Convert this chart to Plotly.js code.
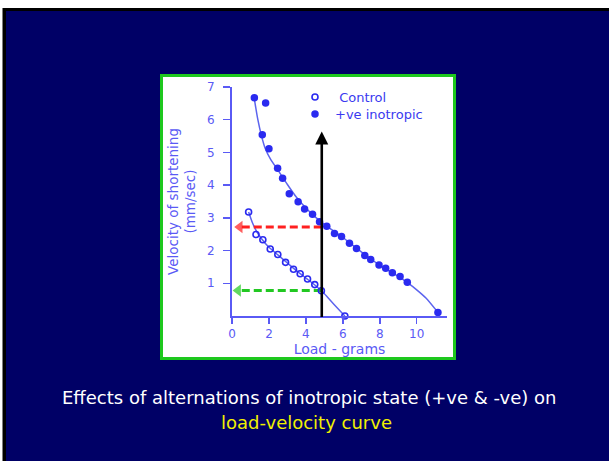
<!DOCTYPE html>
<html>
<head>
<meta charset="utf-8">
<script src="https://cdn.plot.ly/plotly-3.0.1.min.js"></script>
<style>html,body{margin:0;padding:0;background:#fff;}#chart{width:610px;height:461px;}</style>
</head>
<body>
<div id="chart"></div>
<script>
// Control (open circles)
const controlLoad = [0.90, 1.30, 1.67, 2.07, 2.48, 2.90, 3.33, 3.69, 4.09, 4.48, 4.84, 6.11];
const controlVel  = [3.18, 2.49, 2.33, 2.05, 1.88, 1.64, 1.43, 1.29, 1.13, 0.96, 0.77, 0.00];
// Control fitted curve
const controlFitLoad = [0.90, 1.10, 1.30, 1.60, 2.00, 2.50, 3.00, 3.50, 4.00, 4.50, 5.00, 5.50, 6.11];
const controlFitVel  = [3.18, 2.86, 2.62, 2.36, 2.10, 1.86, 1.62, 1.38, 1.16, 0.94, 0.68, 0.37, 0.00];
// +ve inotropic (filled circles)
const inoLoad = [1.21, 1.82, 1.64, 2.00, 2.47, 2.74, 3.10, 3.58, 3.93, 4.36, 4.74, 5.13, 5.55, 5.93, 6.36, 6.74, 7.19, 7.51, 7.96, 8.32, 8.68, 9.10, 9.49, 11.15];
const inoVel  = [6.67, 6.51, 5.54, 5.11, 4.52, 4.21, 3.74, 3.49, 3.27, 3.11, 2.88, 2.74, 2.52, 2.43, 2.22, 2.06, 1.85, 1.73, 1.56, 1.46, 1.32, 1.21, 1.03, 0.11];
// +ve inotropic fitted curve
const inoFitLoad = [1.20, 1.40, 1.60, 1.80, 2.10, 2.50, 3.00, 3.50, 4.00, 4.50, 5.00, 5.50, 6.00, 6.50, 7.00, 7.50, 8.00, 8.50, 9.00, 9.50, 10.00, 10.50, 11.15];
const inoFitVel  = [6.67, 6.00, 5.50, 5.12, 4.78, 4.45, 4.02, 3.62, 3.30, 3.03, 2.80, 2.60, 2.40, 2.18, 1.96, 1.75, 1.55, 1.38, 1.21, 1.02, 0.80, 0.55, 0.11];
// Arrows
const loadMark = 4.86;
const blackArrowVel = [-0.08, 5.64];
const redArrowLoad = [4.86, 0.42];
const redArrowVel = [2.72, 2.72];
const greenArrowLoad = [4.86, 0.33];
const greenArrowVel = [0.78, 0.78];
// Labels
const xTicks = [0, 2, 4, 6, 8, 10];
const yTicks = [1, 2, 3, 4, 5, 6, 7];
const seriesNames = ['\u00a0Control', '+ve inotropic'];

const axisBlue = '#5a5af5';
const markBlue = '#2a2af0';
const lineBlue = '#5c64ee';
const fontFam = 'Verdana, "DejaVu Sans", sans-serif';

const traces = [
  {x: controlFitLoad, y: controlFitVel, mode: 'lines', line: {color: lineBlue, width: 1.5, shape: 'spline', smoothing: 0.6}, showlegend: false, hoverinfo: 'skip'},
  {x: inoFitLoad, y: inoFitVel, mode: 'lines', line: {color: lineBlue, width: 1.5, shape: 'spline', smoothing: 0.6}, showlegend: false, hoverinfo: 'skip'},
  {x: redArrowLoad, y: redArrowVel, mode: 'lines+markers', line: {color: '#ff2020', width: 3, dash: '8px,4px'},
   marker: {symbol: ['circle', 'triangle-left'], size: [0, 11], color: '#ff1a1a', line: {width: 0}}, showlegend: false, cliponaxis: false},
  {x: greenArrowLoad, y: greenArrowVel, mode: 'lines+markers', line: {color: '#22c822', width: 3, dash: '8px,4px'},
   marker: {symbol: ['circle', 'triangle-left'], size: [0, 11], color: '#1ec81e', line: {width: 0}}, showlegend: false, cliponaxis: false},
  {x: controlLoad, y: controlVel, mode: 'markers', name: seriesNames[0], legend: 'legend',
   marker: {symbol: 'circle-open', size: 6, color: markBlue, line: {width: 1.6, color: markBlue}}, cliponaxis: false},
  {x: inoLoad, y: inoVel, mode: 'markers', name: seriesNames[1], legend: 'legend2',
   marker: {symbol: 'circle', size: 7.5, color: markBlue}, cliponaxis: false}
];

function px2x(p) { return (p - 232) / 215; }
function py2y(p) { return (316 - p) / 229; }

const legendFont = {size: 13, color: '#3a3af0', family: fontFam};

const layout = {
  width: 610, height: 461,
  margin: {l: 232, r: 163, t: 87, b: 145, pad: 0},
  paper_bgcolor: '#ffffff',
  plot_bgcolor: 'rgba(0,0,0,0)',
  font: {family: fontFam, color: axisBlue, size: 12},
  showlegend: true,
  legend: {x: px2x(295), y: py2y(82), xanchor: 'left', yanchor: 'top', bgcolor: 'rgba(0,0,0,0)',
           font: legendFont, itemwidth: 30},
  legend2: {x: px2x(295), y: py2y(99), xanchor: 'left', yanchor: 'top', bgcolor: 'rgba(0,0,0,0)',
           font: legendFont, itemwidth: 30},
  xaxis: {
    range: [0, 11.64], tickvals: xTicks, ticktext: xTicks.map(String),
    showgrid: false, zeroline: false, showline: true, linecolor: axisBlue, linewidth: 2,
    ticks: 'outside', ticklen: 6, tickwidth: 1.5, tickcolor: axisBlue,
    tickfont: {size: 12, color: axisBlue},
    title: {text: 'Load - grams', font: {size: 14, color: axisBlue}, standoff: 0},
    fixedrange: true
  },
  yaxis: {
    range: [0, 7], tickvals: yTicks, ticktext: yTicks.map(String),
    showgrid: false, zeroline: false, showline: true, linecolor: axisBlue, linewidth: 2,
    ticks: 'outside', ticklen: 7, tickwidth: 1.5, tickcolor: axisBlue, ticklabelstandoff: 6,
    tickfont: {size: 12, color: axisBlue},
    title: {text: 'Velocity of shortening<br>(mm/sec)', font: {size: 13.5, color: axisBlue}, standoff: 8},
    fixedrange: true
  },
  shapes: [
    {type: 'rect', xref: 'paper', yref: 'paper', x0: px2x(2.5), x1: px2x(609), y0: py2y(470), y1: py2y(8),
     fillcolor: '#000000', line: {width: 0}, layer: 'below'},
    {type: 'rect', xref: 'paper', yref: 'paper', x0: px2x(6), x1: px2x(609), y0: py2y(470), y1: py2y(11),
     fillcolor: '#000066', line: {width: 0}, layer: 'below'},
    {type: 'rect', xref: 'paper', yref: 'paper', x0: px2x(161.5), x1: px2x(454.5), y0: py2y(358.5), y1: py2y(75.5),
     fillcolor: '#ffffff', line: {width: 3, color: '#1ec81e'}, layer: 'below'}
  ],
  annotations: [
    {x: loadMark, y: blackArrowVel[1], ax: loadMark, ay: blackArrowVel[0], xref: 'x', yref: 'y', axref: 'x', ayref: 'y',
     text: '', showarrow: true, arrowhead: 2, arrowsize: 1, arrowwidth: 2.6, arrowcolor: '#000000', standoff: 0},
    {xref: 'paper', yref: 'paper', x: px2x(309), y: py2y(397), xanchor: 'center', yanchor: 'middle',
     text: 'Effects of alternations of inotropic state (+ve &amp; -ve) on', showarrow: false,
     font: {size: 18, color: '#ffffff', family: fontFam}},
    {xref: 'paper', yref: 'paper', x: px2x(306), y: py2y(423), xanchor: 'center', yanchor: 'middle',
     text: 'load-velocity curve', showarrow: false,
     font: {size: 18, color: '#f0f000', family: fontFam}}
  ]
};

Plotly.newPlot('chart', traces, layout, {displayModeBar: false, staticPlot: true});
</script>
</body>
</html>
